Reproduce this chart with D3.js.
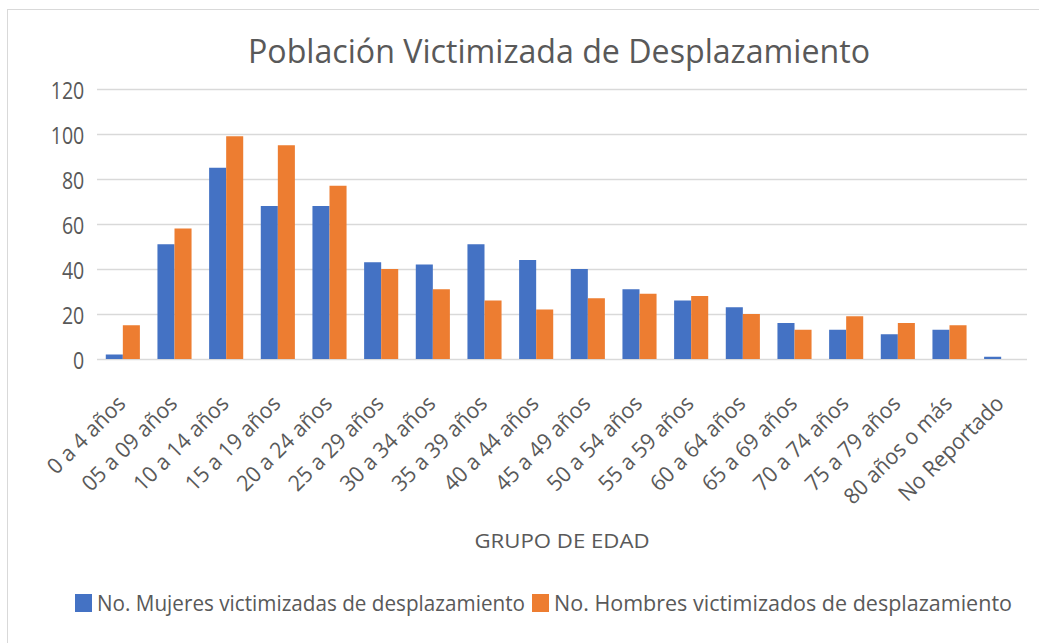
<!DOCTYPE html>
<html>
<head>
<meta charset="utf-8">
<script src="https://cdn.jsdelivr.net/npm/d3@7"></script>
<style>
  body { margin: 0; background: #fff; }
  text { font-family: "Open Sans", sans-serif; fill: #595959; }
</style>
</head>
<body>
<div id="chart-area"><svg></svg></div>
<script>
const CHART_SIZE = { width: 1039, height: 643 };
const MARGIN = { left: 97, right: 12, top: 89, bottom: 284 };
const WIDTH = CHART_SIZE.width - (MARGIN.left + MARGIN.right);
const HEIGHT = CHART_SIZE.height - (MARGIN.top + MARGIN.bottom);

const ageGroups = [
  "0 a 4 años", "05 a 09 años", "10 a 14 años", "15 a 19 años", "20 a 24 años",
  "25 a 29 años", "30 a 34 años", "35 a 39 años", "40 a 44 años", "45 a 49 años",
  "50 a 54 años", "55 a 59 años", "60 a 64 años", "65 a 69 años", "70 a 74 años",
  "75 a 79 años", "80 años o más", "No Reportado"
];
const women = [2, 51, 85, 68, 68, 43, 42, 51, 44, 40, 31, 26, 23, 16, 13, 11, 13, 1];
const men = [15, 58, 99, 95, 77, 40, 31, 26, 22, 27, 29, 28, 20, 13, 19, 16, 15, 0];
const seriesNames = [
  "No. Mujeres victimizadas de desplazamiento",
  "No. Hombres victimizados de desplazamiento"
];
const seriesColors = ["#4472C4", "#ED7D31"];
const yTicks = [0, 20, 40, 60, 80, 100, 120];

const svg = d3
  .select("#chart-area svg")
  .attr("width", CHART_SIZE.width)
  .attr("height", CHART_SIZE.height);

// chart border (only top and left visible in the crop)
svg.append("rect")
  .attr("x", 7.5).attr("y", 9.5)
  .attr("width", 1100).attr("height", 700)
  .attr("fill", "none").attr("stroke", "#D9D9D9");

svg.append("text")
  .attr("x", 559).attr("y", 63)
  .attr("text-anchor", "middle")
  .attr("font-size", 33)
  .attr("textLength", 622).attr("lengthAdjust", "spacingAndGlyphs")
  .text("Población Victimizada de Desplazamiento");

const g = svg.append("g")
  .attr("transform", `translate(${MARGIN.left},${MARGIN.top})`);

const y = d3.scaleLinear().domain([0, 120]).range([HEIGHT, 0]);
const x = d3.scaleBand().domain(ageGroups).range([0, WIDTH])
  .paddingInner(0.34).paddingOuter(0.17);
const xs = d3.scaleBand().domain([0, 1]).range([0, x.bandwidth()]);

const yAxis = d3.axisLeft(y).tickValues(yTicks).tickSize(-WIDTH).tickPadding(15);
g.append("g").attr("class", "y-axis").call(yAxis)
  .call(a => a.select(".domain").remove())
  .call(a => a.selectAll("line").attr("stroke", "#D9D9D9").attr("stroke-width", 1.5))
  .call(a => a.selectAll("text")
    .attr("font-size", 23).attr("fill", "#595959")
    .attr("font-family", "Open Sans, sans-serif")
    .attr("transform", "scale(0.85,1)").attr("dy", "0.4em"));

const rows = ageGroups.map((a, i) => ({ age: a, vals: [women[i], men[i]] }));

g.selectAll(".group").data(rows).join("g")
  .attr("transform", d => `translate(${x(d.age)},0)`)
  .selectAll("rect").data(d => d.vals).join("rect")
  .attr("x", (v, i) => xs(i))
  .attr("width", xs.bandwidth())
  .attr("y", v => y(v))
  .attr("height", v => HEIGHT - y(v))
  .attr("fill", (v, i) => seriesColors[i]);

const xAxis = d3.axisBottom(x).tickSize(0).tickPadding(0);
g.append("g").attr("class", "x-axis")
  .attr("transform", `translate(0,${HEIGHT})`)
  .call(xAxis)
  .call(a => a.select(".domain").remove())
  .call(a => a.selectAll("text")
    .attr("font-size", 22).attr("fill", "#595959")
    .attr("font-family", "Open Sans, sans-serif")
    .attr("text-anchor", "end")
    .attr("dy", 0)
    .attr("transform", "translate(4,46) rotate(-45) scale(0.96,1)"));

svg.append("text")
  .attr("x", 562).attr("y", 548)
  .attr("text-anchor", "middle")
  .attr("font-size", 20)
  .attr("textLength", 175).attr("lengthAdjust", "spacingAndGlyphs")
  .text("GRUPO DE EDAD");

const legendX = [75, 532];
const legendLen = [428, 458];
const legend = svg.selectAll(".legend").data(seriesNames).join("g")
  .attr("transform", (d, i) => `translate(${legendX[i]},594)`);
legend.append("rect")
  .attr("width", 17).attr("height", 18)
  .attr("fill", (d, i) => seriesColors[i]);
legend.append("text")
  .attr("x", 22).attr("y", 17)
  .attr("font-size", 21)
  .attr("textLength", (d, i) => legendLen[i]).attr("lengthAdjust", "spacingAndGlyphs")
  .text(d => d);
</script>
</body>
</html>
